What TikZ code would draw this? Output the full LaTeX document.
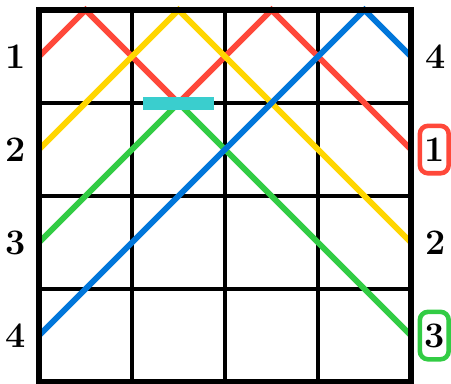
\documentclass[tikz,border=0pt]{standalone}
\usepackage{tikz}
\usetikzlibrary{positioning}
\definecolor{rayred}{RGB}{255,72,58}
\definecolor{rayyellow}{RGB}{255,214,0}
\definecolor{raygreen}{RGB}{50,204,68}
\definecolor{rayblue}{RGB}{0,118,218}
\definecolor{mirrorcyan}{RGB}{58,206,206}

\begin{document}
\begin{tikzpicture}[
    grid/.style={line width=1.2pt,black},
    frame/.style={line width=1.9pt,black},
    ray/.style={line width=1.8pt},
    mirror/.style={rectangle,fill=mirrorcyan,minimum width=0.77cm,minimum height=0.14cm,inner sep=0pt},
    lbl/.style={inner sep=0pt,font=\fontsize{11}{13}\selectfont\bfseries},
    hit/.style={lbl,draw,line width=1.4pt,rounded corners=2.5pt,minimum width=0.31cm,minimum height=0.51cm}
  ]
    \useasboundingbox (-0.419,-0.011) rectangle (4.43,4.108);

    % grid
    \foreach \i in {1,2,3} {
      \draw[grid] (\i,0) -- (\i,4);
      \draw[grid] (0,\i) -- (4,\i);
    }

    % entries and exits, row 1 on top
    \foreach \r in {1,...,4} {
      \coordinate (in\r) at (0,4.5-\r);
      \coordinate (out\r) at (4,4.5-\r);
    }
    \coordinate (mir) at (1.5,3);

    % rays
    \draw[ray,rayred] (in1) -- (0.5,4) -- (mir) -- (2.5,4) -- (out2);
    \draw[ray,rayyellow] (in2) -- (1.5,4) -- (out3);
    \draw[ray,raygreen] (in3) -- (mir) -- (out4);
    \draw[ray,rayblue] (in4) -- (3.5,4) -- (out1);

    \draw[frame] (0,0) rectangle (4,4);
    \node[mirror] (m) at (mir) {};

    % labels
    \node[lbl,xshift=-0.25cm] (l1) at (in1) {1};
    \node[lbl,xshift=-0.25cm] (l2) at (in2) {2};
    \node[lbl,xshift=-0.25cm] (l3) at (in3) {3};
    \node[lbl,xshift=-0.25cm] (l4) at (in4) {4};

    \node[lbl,xshift=0.26cm] (r1) at (out1) {4};
    \node[hit,draw=rayred,xshift=0.25cm] (r2) at (out2) {1};
    \node[lbl,xshift=0.26cm] (r3) at (out3) {2};
    \node[hit,draw=raygreen,xshift=0.25cm] (r4) at (out4) {3};
  \end{tikzpicture}
\end{document}
